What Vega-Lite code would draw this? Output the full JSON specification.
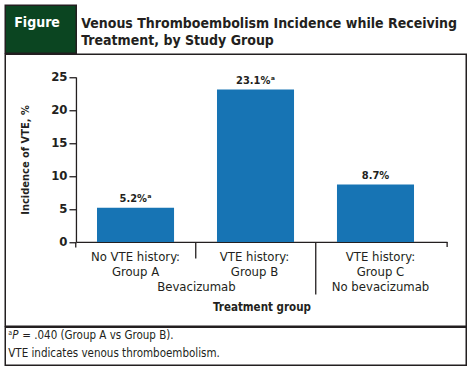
{
  "$schema": "https://vega.github.io/schema/vega-lite/v6.json",
  "padding": {"left": 4.25, "top": 4.25, "right": 0, "bottom": 0},
  "background": "white",
  "spacing": -1.5,
  "config": {
    "font": "DejaVu Sans Condensed, sans-serif",
    "view": {"stroke": "#231f20", "strokeWidth": 1.5},
    "text": {"color": "#231f20"}
  },
  "vconcat": [
    {
      "spacing": -1.5,
      "hconcat": [
        {
          "width": 71,
          "height": 48,
          "view": {"fill": "#0b4521", "stroke": "#231f20", "strokeWidth": 1.5},
          "data": {"values": [{"t": "Figure"}]},
          "mark": {"type": "text", "align": "left", "baseline": "alphabetic", "dx": -26.5, "dy": -2, "fontSize": 14, "fontWeight": "bold", "color": "white"},
          "encoding": {"text": {"field": "t", "type": "nominal"}}
        },
        {
          "width": 390,
          "height": 48,
          "data": {"values": [{"t": "Venous Thromboembolism Incidence while Receiving|Treatment, by Study Group"}]},
          "mark": {"type": "text", "align": "left", "baseline": "alphabetic", "lineBreak": "|", "lineHeight": 17, "dx": -191, "dy": -1.5, "fontSize": 14, "fontWeight": "bold", "color": "#231f20"},
          "encoding": {"text": {"field": "t", "type": "nominal"}}
        }
      ]
    },
    {
      "width": 461,
      "height": 272,
      "data": {"values": [
        {"grp": "No VTE history:|Group A", "value": 5.2, "txt": "5.2%ᵃ"},
        {"grp": "VTE history:|Group B", "value": 23.1, "txt": "23.1%ᵃ"},
        {"grp": "VTE history:|Group C|No bevacizumab", "value": 8.7, "txt": "8.7%"}
      ]},
      "layer": [
        {
          "mark": {"type": "bar", "color": "#1774b4"},
          "encoding": {
            "x": {
              "field": "grp", "type": "nominal",
              "scale": {
                "domain": ["No VTE history:|Group A", "VTE history:|Group B", "VTE history:|Group C|No bevacizumab"],
                "range": [70.7, 441.7], "paddingInner": 0.358, "paddingOuter": 0.225, "align": 0.39
              },
              "axis": {
                "orient": "bottom", "offset": -84.3, "bandPosition": -0.28, "title": "Treatment group",
                "labelExpr": "split(datum.label, '|')",
                "labelAngle": 0, "labelFontSize": 13, "labelLineHeight": 15, "labelColor": "#231f20",
                "labelPadding": {"condition": [
                  {"test": "indexof(datum.value, 'Group B') >= 0", "value": -7.8},
                  {"test": "indexof(datum.value, 'Group C') >= 0", "value": -43.8}
                ], "value": 3.2},
                "labelOffset": {"condition": [
                  {"test": "indexof(datum.value, 'Group B') >= 0", "value": -1},
                  {"test": "indexof(datum.value, 'Group C') >= 0", "value": 5}
                ], "value": 0},
                "tickSize": {"condition": [
                  {"test": "indexof(datum.value, 'Group B') >= 0", "value": 16},
                  {"test": "indexof(datum.value, 'Group C') >= 0", "value": 52}
                ], "value": 5},
                "tickColor": "#231f20", "tickWidth": 1.3, "domainColor": "#231f20", "domainWidth": 1.3,
                "titleFontSize": 11.5, "titleFontWeight": "bold", "titleColor": "#231f20", "titlePadding": 7,
                "labelOverlap": false, "labelLimit": 0
              }
            },
            "y": {
              "field": "value", "type": "quantitative",
              "scale": {"domain": [0, 25], "range": [187.7, 22.7], "nice": false, "zero": true},
              "axis": {
                "orient": "left", "offset": -70.7, "values": [0, 5, 10, 15, 20, 25], "grid": false,
                "title": "Incidence of VTE, %", "titleFontSize": 11, "titleFontWeight": "bold", "titleColor": "#231f20", "titlePadding": 20,
                "labelFontSize": 13, "labelFontWeight": "bold", "labelColor": "#231f20", "labelPadding": 2,
                "tickSize": 7, "tickColor": "#231f20", "tickWidth": 1.3, "domainColor": "#231f20", "domainWidth": 1.3
              }
            }
          }
        },
        {
          "mark": {"type": "text", "baseline": "alphabetic", "dy": -5.5, "fontSize": 11, "fontWeight": "bold", "color": "#231f20"},
          "encoding": {
            "x": {"field": "grp", "type": "nominal"},
            "y": {"field": "value", "type": "quantitative"},
            "text": {"field": "txt", "type": "nominal"}
          }
        },
        {
          "data": {"values": [{"grp": "VTE history:|Group B", "t": "Bevacizumab"}]},
          "mark": {"type": "text", "baseline": "alphabetic", "dy": 49, "dx": 1, "fontSize": 13, "color": "#231f20"},
          "encoding": {
            "x": {"field": "grp", "type": "nominal", "bandPosition": -0.28},
            "y": {"datum": 0},
            "text": {"field": "t", "type": "nominal"}
          }
        },
        {
          "data": {"values": [{"grp": "VTE history:|Group C|No bevacizumab"}]},
          "mark": {"type": "rule", "y2Offset": 5, "color": "#231f20", "strokeWidth": 1.3},
          "encoding": {
            "x": {"field": "grp", "type": "nominal", "bandPosition": 1.43},
            "y": {"datum": 0},
            "y2": {"datum": 0}
          }
        }
      ]
    },
    {
      "width": 461,
      "height": 38,
      "view": {"stroke": "#231f20", "strokeWidth": 1.5},
      "data": {"values": [
        {"t": "a", "part": "sup", "line": 1},
        {"t": "P", "part": "p", "line": 1},
        {"t": "= .040 (Group A vs Group B).", "part": "rest", "line": 1},
        {"t": "VTE indicates venous thromboembolism.", "part": "line2", "line": 2}
      ]},
      "encoding": {
        "y": {"field": "line", "type": "ordinal", "scale": {"type": "point", "domain": [1, 2], "range": [11.7, 30], "padding": 0}, "axis": null},
        "text": {"field": "t", "type": "nominal"}
      },
      "layer": [
        {
          "transform": [{"filter": "datum.part == 'sup'"}],
          "mark": {"type": "text", "align": "left", "baseline": "alphabetic", "dx": -227.5, "dy": -4.2, "fontSize": 7, "color": "#231f20"}
        },
        {
          "transform": [{"filter": "datum.part == 'p'"}],
          "mark": {"type": "text", "align": "left", "baseline": "alphabetic", "dx": -223.5, "fontSize": 11.5, "fontStyle": "italic", "color": "#231f20"}
        },
        {
          "transform": [{"filter": "datum.part == 'rest'"}],
          "mark": {"type": "text", "align": "left", "baseline": "alphabetic", "dx": -213.5, "fontSize": 11.5, "color": "#231f20"}
        },
        {
          "transform": [{"filter": "datum.part == 'line2'"}],
          "mark": {"type": "text", "align": "left", "baseline": "alphabetic", "dx": -227.5, "fontSize": 11.5, "color": "#231f20"}
        }
      ]
    }
  ]
}
